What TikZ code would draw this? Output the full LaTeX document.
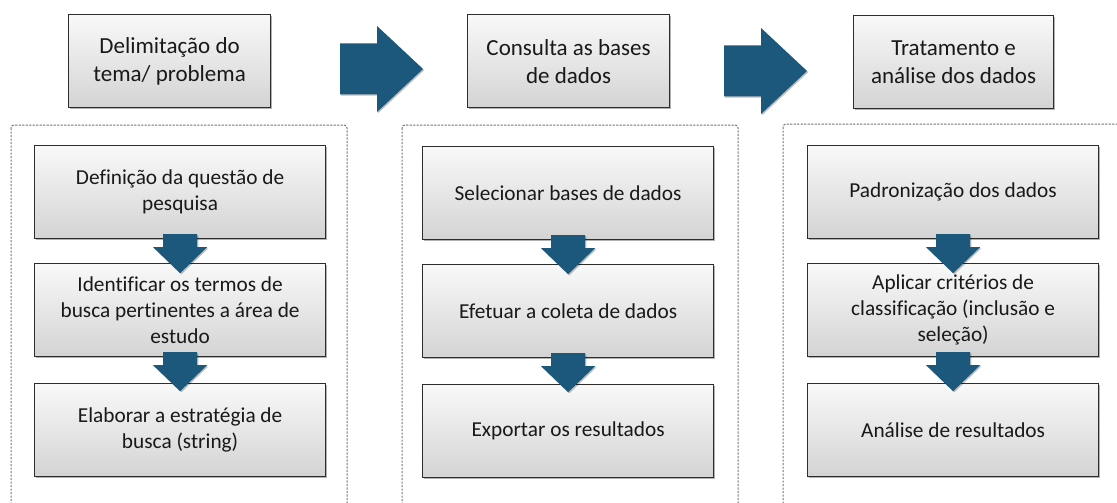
\documentclass[tikz,border=0pt]{standalone}
\usepackage{fontspec}
\setmainfont{Carlito}[Ligatures=NoCommon]
\usetikzlibrary{shadows,calc}
\definecolor{arrowblue}{RGB}{28,88,124}
\definecolor{boxline}{RGB}{45,45,45}
\tikzset{
  basebox/.style={draw=boxline, line width=1.2pt, top color=gray!5, bottom color=gray!34,
    align=center, text=black!90, inner sep=0pt, anchor=north west,
    drop shadow={shadow xshift=1.6pt, shadow yshift=-1.8pt, opacity=0.3, fill=black}},
  headbox/.style={basebox, minimum width=202pt, minimum height=93pt,
    font=\fontsize{23}{28}\selectfont},
  stepbox/.style={basebox, minimum width=291pt, minimum height=93pt,
    font=\fontsize{21.3}{26}\selectfont},
  groupbox/.style={draw=black!55, dash pattern=on 2.2pt off 1.3pt, line width=1pt, rounded corners=3pt},
  bluefill/.style={fill=arrowblue, drop shadow={shadow xshift=1.2pt, shadow yshift=-1.2pt, opacity=0.25, fill=black}},
  downarr/.pic={\path[bluefill] (-17,-5) -- (17,-5) -- (17,8) -- (27,8) -- (0,34) -- (-27,8) -- (-17,8) -- cycle;},
  rightarr/.pic={\path[bluefill] (0,-25.5) -- (37,-25.5) -- (37,-43) -- (83,0) -- (37,43) -- (37,25.5) -- (0,25.5) -- cycle;}
}
\begin{document}
\begin{tikzpicture}[x=1pt,y=-1pt]
\useasboundingbox (0,0) rectangle (1117,503);
\clip (0,0) rectangle (1117,503);
% dashed groups
\draw[groupbox] (11,125) rectangle (347,515);
\draw[groupbox] (402,125) rectangle (738,515);
\draw[groupbox] (783,124) rectangle (1130,515);
% header boxes
\node[headbox] (h1) at (68,14) {Delimitação do\\tema/ problema};
\node[headbox] (h2) at (467,14) {Consulta as bases\\de dados};
\node[headbox, minimum width=200pt] (h3) at (853,15) {Tratamento e\\análise dos dados};
% big arrows
\pic at (340,69) {rightarr};
\pic at (724,71) {rightarr};
% column 1
\node[stepbox] (a1) at (34,145) {Definição da questão de\\pesquisa};
\node[stepbox] (a2) at (34,263) {Identificar os termos de\\busca pertinentes a área de\\estudo};
\node[stepbox] (a3) at (34,383) {Elaborar a estratégia de\\busca (string)};
% column 2
\node[stepbox] (b1) at (422,146) {Selecionar bases de dados};
\node[stepbox] (b2) at (422,264) {Efetuar a coleta de dados};
\node[stepbox] (b3) at (422,384) {Exportar os resultados};
% column 3
\node[stepbox] (c1) at (807,145) {Padronização dos dados};
\node[stepbox] (c2) at (807,263) {Aplicar critérios de\\classificação (inclusão e\\seleção)};
\node[stepbox] (c3) at (807,383) {Análise de resultados};
% small arrows
\pic at (a1.south) {downarr};
\pic at (a2.south) {downarr};
\pic at (b1.south) {downarr};
\pic at (b2.south) {downarr};
\pic at (c1.south) {downarr};
\pic at (c2.south) {downarr};
\end{tikzpicture}
\end{document}
